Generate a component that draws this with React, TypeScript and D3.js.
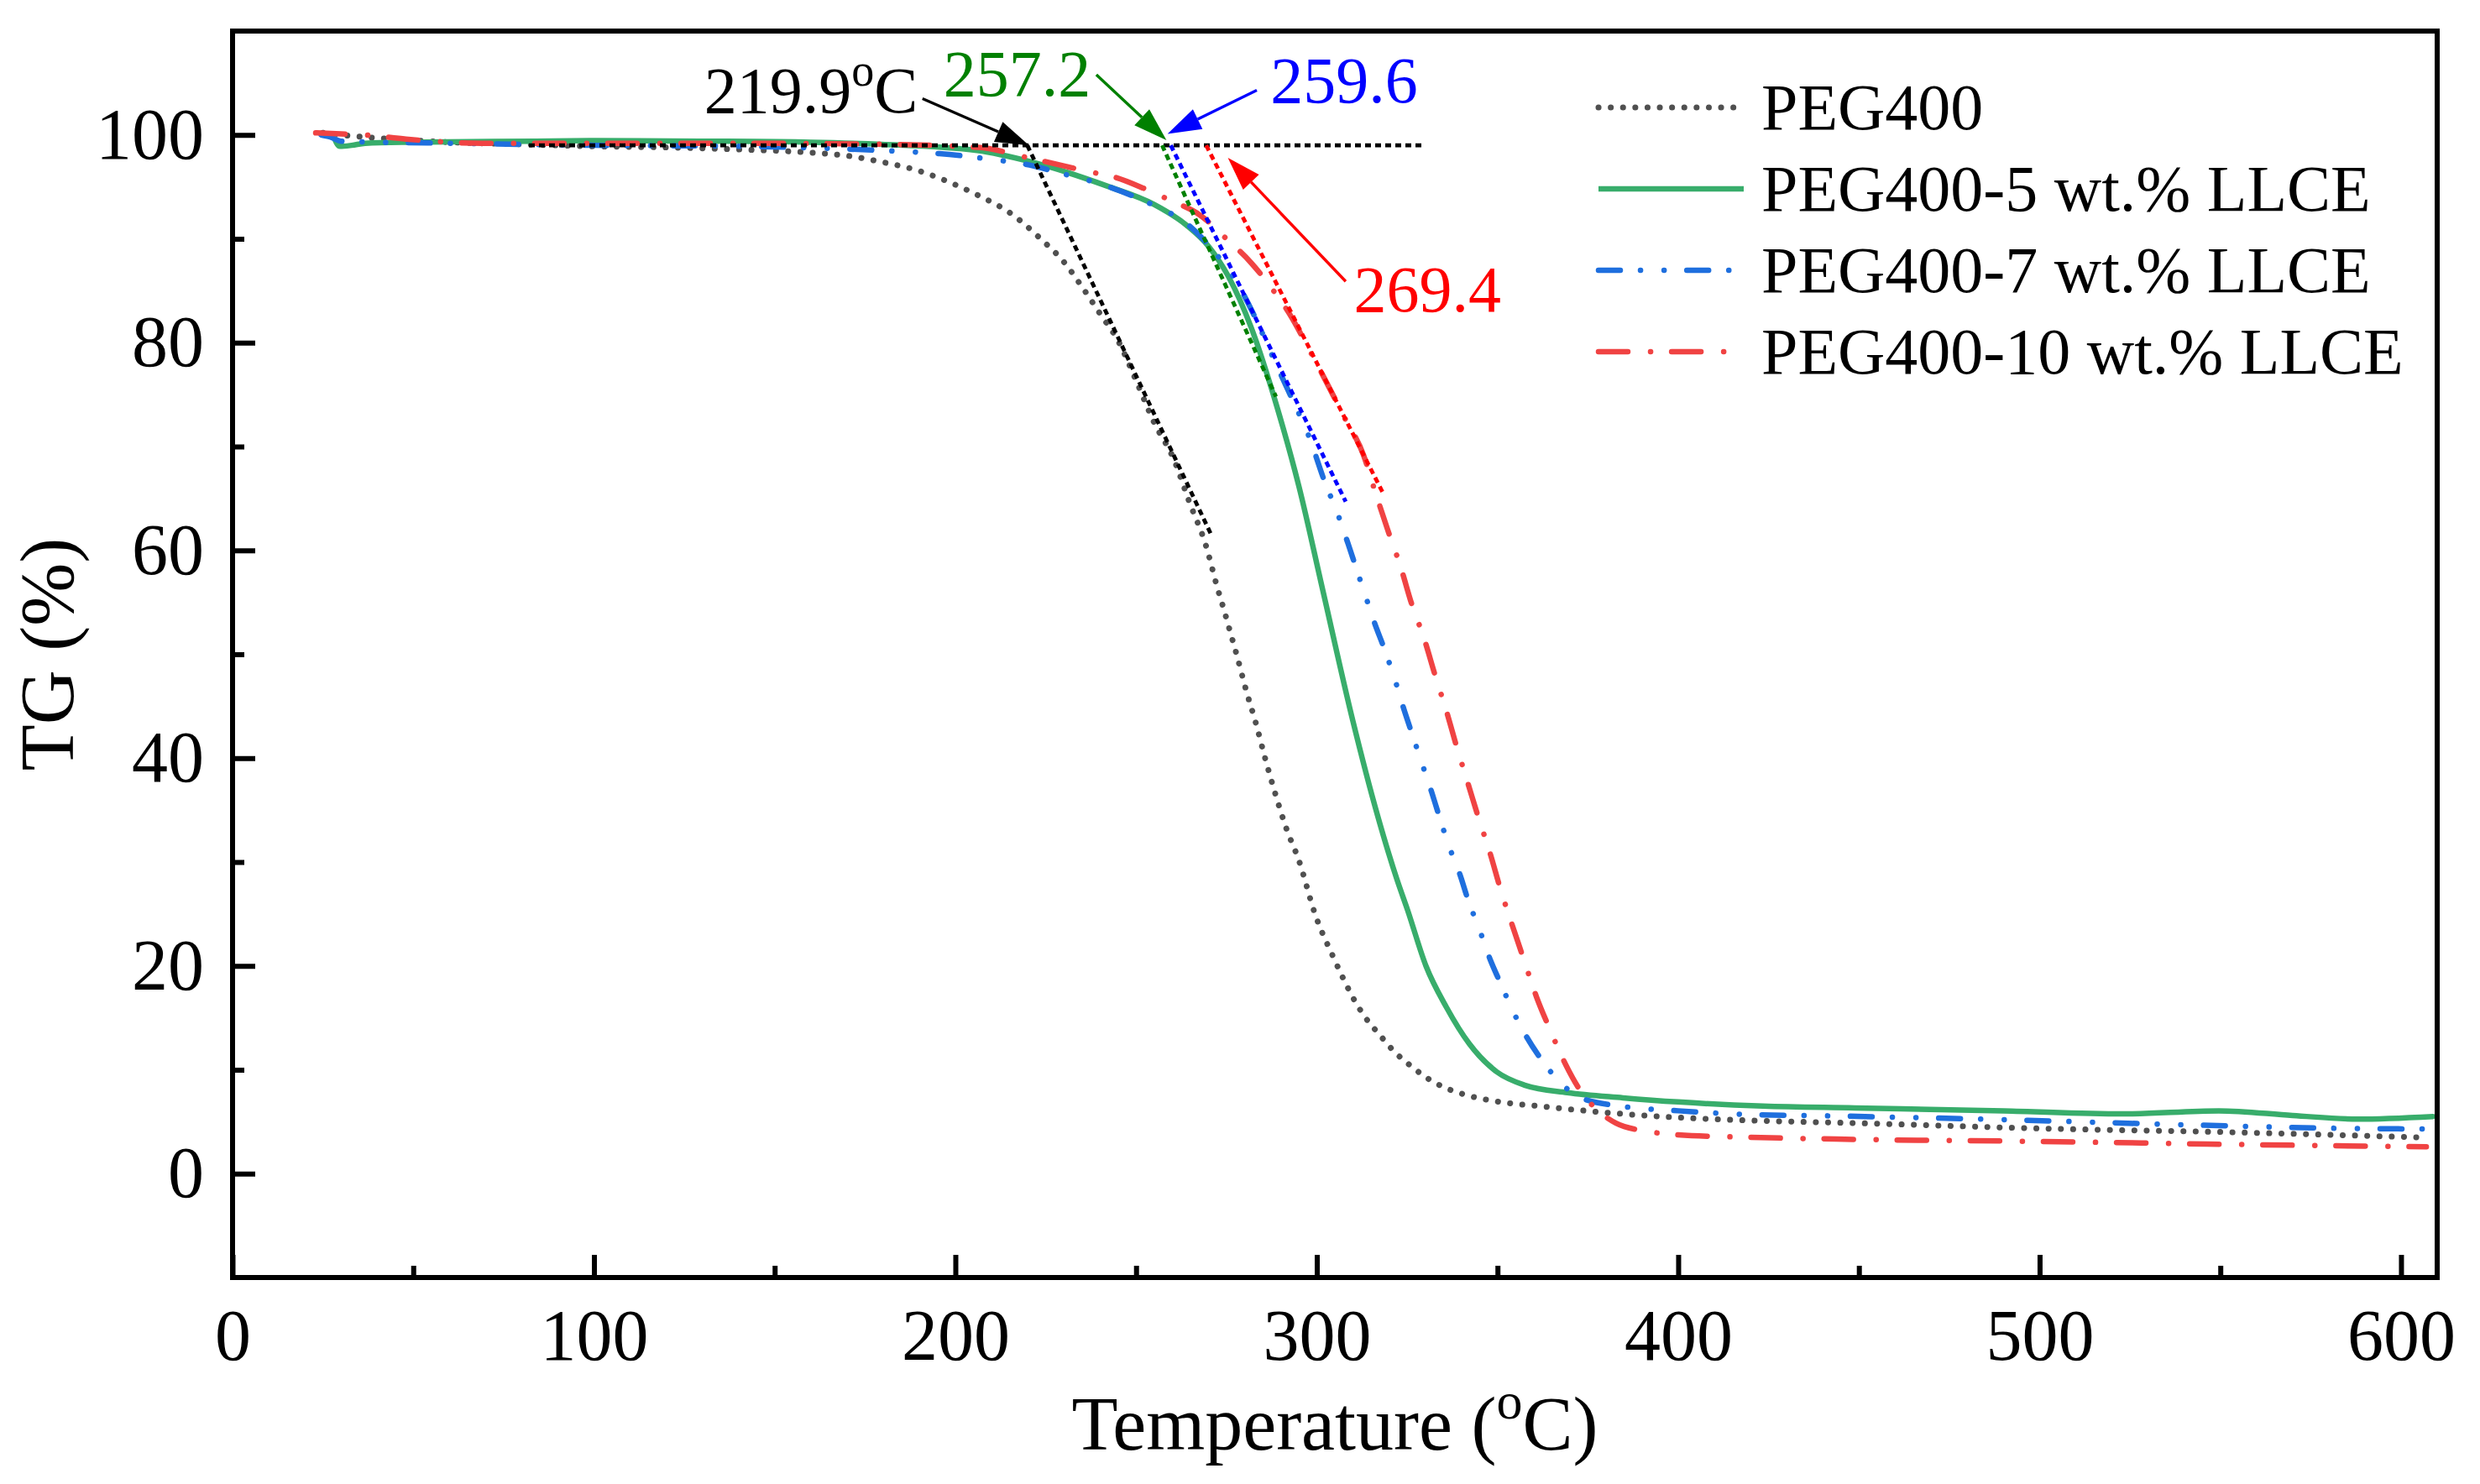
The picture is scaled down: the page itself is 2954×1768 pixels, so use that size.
import React, { useEffect, useRef } from 'react';
import * as d3 from 'd3';

const W = 2954;
const H = 1768;
const PLOT = { left: 277, top: 37, right: 2903, bottom: 1522 };
const FONT = '"Liberation Serif", "Times New Roman", Times, serif';

const xDomain = [0, 610];
const yDomain = [-10, 110];
const xTicks = [0, 100, 200, 300, 400, 500, 600];
const xMinorTicks = [50, 150, 250, 350, 450, 550];
const yTicks = [0, 20, 40, 60, 80, 100];
const yMinorTicks = [10, 30, 50, 70, 90];

const seriesNames = ['PEG400', 'PEG400-5 wt.% LLCE', 'PEG400-7 wt.% LLCE', 'PEG400-10 wt.% LLCE'];
const seriesColors = ['#505050', '#38ad6b', '#1f6fde', '#f04343'];
const seriesDash = ['0.1 14.5', 'none', '26 24 0.1 28 0.1 27', '35 27 0.1 25'];
const seriesWidth = [7, 6.5, 6.5, 6.5];

// PEG400
const pegT = [25, 30, 40, 60, 80, 100, 120, 140, 160, 170, 180.9, 188.4, 197.3, 206.2, 215.1, 223.9, 230.2, 234.6, 240, 245.3, 249.7, 255, 260.4, 264.8, 269.3, 272.5, 274.3, 276, 277.8, 280.4, 283.2, 285.7, 288.5, 291.5, 295.1, 299.6, 304.5, 307.3, 310.4, 313.5, 317.3, 321.3, 325.9, 331, 336, 341, 349.5, 363, 379.3, 400, 421.9, 448.8, 500, 552.5, 607];
const pegW = [100.2, 100.0, 99.7, 99.3, 99.1, 98.9, 98.8, 98.6, 98.3, 98.0, 97.3, 96.7, 95.6, 94.2, 92.5, 89.9, 87.7, 85.6, 82.8, 80.0, 76.6, 72.3, 68.8, 64.6, 60.5, 56.4, 54.3, 52.2, 50.0, 46.6, 43.3, 40.0, 36.6, 33.3, 30.1, 24.9, 20.9, 18.8, 16.7, 15.0, 13.4, 11.8, 10.4, 9.1, 8.2, 7.6, 6.97, 6.45, 5.9, 5.4, 5.1, 4.87, 4.35, 3.99, 3.47];

// PEG400-5 wt.% LLCE
const l5T = [27.8, 29.7, 33, 36.7, 50, 84, 100, 130, 160, 179.6, 206, 221, 241.8, 255, 264, 270, 275.5, 281.8, 289, 295.1, 301.7, 309.9, 316.8, 322.2, 325.1, 330.2, 335.9, 342.2, 349.8, 357.7, 369.3, 384.7, 400, 423.5, 448.8, 490, 522.9, 549.6, 570, 588, 608.8];
const l5W = [100.0, 98.9, 99.0, 99.2, 99.3, 99.4, 99.45, 99.4, 99.3, 99.1, 98.5, 97.4, 95.1, 93.3, 91.3, 89.3, 86.4, 81.5, 73.8, 66.1, 56.1, 43.7, 34.5, 28.3, 25.4, 20.0, 16.0, 12.5, 9.8, 8.5, 7.8, 7.3, 6.9, 6.5, 6.33, 6.05, 5.75, 6.05, 5.6, 5.25, 5.5];

// PEG400-7 wt.% LLCE
const l7T = [24.5, 27, 30, 40, 60, 100, 140, 179.6, 195.6, 208.8, 220.5, 229.3, 240, 255, 263.1, 272, 278.2, 282.7, 288, 293.4, 297.8, 302.2, 305.8, 308.7, 310.8, 313.3, 316.1, 318.5, 321.4, 324.2, 326.3, 328.9, 331.9, 333.6, 336.4, 339.8, 341.8, 344.9, 348.1, 351, 354.2, 358, 361.5, 366.5, 373, 384, 400, 418.8, 444, 493, 540.5, 586.5, 608];
const l7W = [100.0, 99.8, 99.4, 99.3, 99.2, 99.0, 98.9, 98.5, 98.2, 97.7, 97.1, 96.3, 95.3, 93.2, 91.7, 88.6, 85.6, 82.6, 78.5, 74.4, 71.0, 66.6, 63.5, 60.6, 58.4, 55.8, 52.9, 50.7, 47.8, 44.6, 42.4, 39.7, 36.6, 34.7, 31.7, 28.6, 26.4, 23.6, 20.5, 18.2, 15.7, 13.2, 11.3, 9.1, 7.3, 6.5, 6.05, 5.7, 5.55, 5.17, 4.7, 4.35, 4.3];

// PEG400-10 wt.% LLCE
const l10T = [23, 30, 36.6, 48, 69, 100, 140, 179.6, 206.2, 221.4, 236.5, 244.4, 252.5, 259.5, 267.6, 275, 281.8, 287.6, 292.4, 297.8, 303.1, 307.5, 312.9, 316.2, 319.6, 323.3, 326.2, 329.8, 332.8, 335.9, 338.7, 341.8, 344.7, 347.9, 350.9, 354.1, 357.2, 360.8, 364.6, 369, 373.1, 377.7, 382.8, 391, 399.5, 419.6, 448.8, 500, 552.5, 607];
const l10W = [100.2, 100.1, 100.0, 99.6, 99.2, 99.2, 99.2, 99.1, 98.8, 97.7, 96.5, 95.9, 94.8, 93.7, 92.3, 90.0, 87.7, 85.2, 82.8, 79.4, 75.9, 72.9, 69.2, 65.6, 62.0, 58.3, 54.9, 51.4, 47.9, 44.5, 41.1, 37.6, 34.3, 30.9, 27.3, 23.9, 20.7, 17.0, 13.8, 10.4, 7.9, 6.1, 4.85, 4.1, 3.75, 3.5, 3.3, 3.1, 2.82, 2.58];

const seriesT = [pegT, l5T, l7T, l10T];
const seriesW = [pegW, l5W, l7W, l10W];

// Onset construction
const baselineRange = [82, 329];
const baselineLevel = 99.0;
const onsetLabels = ['219.9', '257.2', '259.6', '269.4'];
const onsetT = [219.9, 257.2, 259.6, 269.4];
const tangentEndT = [270.8, 288.7, 308.0, 318.5];
const tangentEndW = [61.5, 74.8, 64.7, 65.4];
const tangentColors = ['#000000', '#008000', '#0000ff', '#ff0000'];
const arrowTailT = [190.9, 239.0, 283.4, 308.0];
const arrowTailW = [103.5, 105.8, 104.3, 85.9];
const arrowTipT = [220.4, 258.4, 258.7, 275.4];
const arrowTipW = [99.0, 99.5, 100.1, 97.8];
const labelT = [130.5, 196.7, 287.2, 310.2];
const labelW = [102.2, 103.8, 103.1, 83.05];

const x = d3.scaleLinear().domain(xDomain).range([PLOT.left, PLOT.right]);
const y = d3.scaleLinear().domain(yDomain).range([PLOT.bottom, PLOT.top]);

const lineGen = d3
  .line<[number, number]>()
  .x((d) => x(d[0]))
  .y((d) => y(d[1]))
  .curve(d3.curveMonotoneX);

function arrowParts(i: number) {
  const sx = x(arrowTailT[i]);
  const sy = y(arrowTailW[i]);
  const tx = x(arrowTipT[i]);
  const ty = y(arrowTipW[i]);
  const len = Math.hypot(tx - sx, ty - sy);
  const ux = (tx - sx) / len;
  const uy = (ty - sy) / len;
  const L = 40;
  const Wd = 13;
  const bx = tx - L * ux;
  const by = ty - L * uy;
  const nx = -uy;
  const ny = ux;
  return {
    line: { x1: sx, y1: sy, x2: bx, y2: by },
    head: `${tx},${ty} ${bx + Wd * nx},${by + Wd * ny} ${bx - Wd * nx},${by - Wd * ny}`,
  };
}

export default function App() {
  const xAxisRef = useRef<SVGGElement>(null);
  const xMinorRef = useRef<SVGGElement>(null);
  const yAxisRef = useRef<SVGGElement>(null);
  const yMinorRef = useRef<SVGGElement>(null);

  useEffect(() => {
    const styleAxis = (g: d3.Selection<SVGGElement, unknown, null, undefined>) => {
      g.select('.domain').remove();
      g.selectAll('.tick line').attr('stroke', '#000').attr('stroke-width', 6);
      g.selectAll('.tick text')
        .attr('font-size', 86)
        .attr('font-family', FONT)
        .attr('fill', '#000');
    };
    const gx = d3.select(xAxisRef.current as SVGGElement);
    gx.selectAll('*').remove();
    gx.call(
      d3.axisBottom(x).tickValues(xTicks).tickSizeInner(-27).tickSizeOuter(0).tickPadding(37).tickFormat(d3.format('d'))
    );
    styleAxis(gx);

    const gxm = d3.select(xMinorRef.current as SVGGElement);
    gxm.selectAll('*').remove();
    gxm.call(d3.axisBottom(x).tickValues(xMinorTicks).tickSizeInner(-14).tickSizeOuter(0).tickFormat(() => ''));
    styleAxis(gxm);

    const gy = d3.select(yAxisRef.current as SVGGElement);
    gy.selectAll('*').remove();
    gy.call(
      d3.axisLeft(y).tickValues(yTicks).tickSizeInner(-27).tickSizeOuter(0).tickPadding(34).tickFormat(d3.format('d'))
    );
    styleAxis(gy);

    const gym = d3.select(yMinorRef.current as SVGGElement);
    gym.selectAll('*').remove();
    gym.call(d3.axisLeft(y).tickValues(yMinorTicks).tickSizeInner(-14).tickSizeOuter(0).tickFormat(() => ''));
    styleAxis(gym);
  }, []);

  const legendX1 = 1904;
  const legendX2 = 2077;
  const legendTextX = 2098;
  const legendY0 = 128;
  const legendDy = 97;

  return (
    <div style={{ position: 'fixed', left: 0, top: 0 }}>
      <svg width={W} height={H} style={{ display: 'block' }} fontFamily={FONT}>
        <rect x={0} y={0} width={W} height={H} fill="#fff" />

        {/* data curves */}
        {seriesT.map((ts, i) => (
          <path
            key={seriesNames[i]}
            d={lineGen(ts.map((t, k) => [t, seriesW[i][k]] as [number, number])) || ''}
            fill="none"
            stroke={seriesColors[i]}
            strokeWidth={seriesWidth[i]}
            strokeDasharray={seriesDash[i]}
            strokeLinecap="round"
            strokeLinejoin="round"
          />
        ))}

        {/* baseline */}
        <line
          x1={x(baselineRange[0])}
          x2={x(baselineRange[1])}
          y1={y(baselineLevel)}
          y2={y(baselineLevel)}
          stroke="#000"
          strokeWidth={4.8}
          strokeDasharray="7 5"
        />
        {/* tangents */}
        {onsetT.map((t, i) => (
          <line
            key={'tan' + i}
            x1={x(t)}
            y1={y(baselineLevel)}
            x2={x(tangentEndT[i])}
            y2={y(tangentEndW[i])}
            stroke={tangentColors[i]}
            strokeWidth={4.8}
            strokeDasharray="7 5"
          />
        ))}

        {/* arrows */}
        {onsetT.map((_, i) => {
          const a = arrowParts(i);
          return (
            <g key={'arr' + i}>
              <line {...a.line} stroke={tangentColors[i]} strokeWidth={3.4} />
              <polygon points={a.head} fill={tangentColors[i]} />
            </g>
          );
        })}

        {/* onset labels */}
        {onsetLabels.map((lab, i) => (
          <text key={'lab' + i} x={x(labelT[i])} y={y(labelW[i])} fontSize={78} fill={tangentColors[i]}>
            {lab}
            {i === 0 && (
              <>
                <tspan fontSize={54} dy={-32}>
                  o
                </tspan>
                <tspan dy={32}>C</tspan>
              </>
            )}
          </text>
        ))}

        {/* frame */}
        <rect
          x={PLOT.left}
          y={PLOT.top}
          width={PLOT.right - PLOT.left}
          height={PLOT.bottom - PLOT.top}
          fill="none"
          stroke="#000"
          strokeWidth={6}
        />
        <g ref={xAxisRef} transform={`translate(0,${PLOT.bottom})`} />
        <g ref={xMinorRef} transform={`translate(0,${PLOT.bottom})`} />
        <g ref={yAxisRef} transform={`translate(${PLOT.left},0)`} />
        <g ref={yMinorRef} transform={`translate(${PLOT.left},0)`} />

        {/* axis titles */}
        <text x={(PLOT.left + PLOT.right) / 2} y={1727} fontSize={90} textAnchor="middle" fill="#000">
          Temperature (
          <tspan fontSize={62} dy={-37}>
            o
          </tspan>
          <tspan dy={37}>C)</tspan>
        </text>
        <text
          transform={`translate(87,${(PLOT.top + PLOT.bottom) / 2}) rotate(-90)`}
          fontSize={90}
          textAnchor="middle"
          fill="#000"
        >
          TG (%)
        </text>

        {/* legend */}
        {seriesNames.map((name, i) => (
          <g key={'leg' + i}>
            <line
              x1={legendX1}
              x2={legendX2}
              y1={legendY0 + i * legendDy}
              y2={legendY0 + i * legendDy}
              stroke={seriesColors[i]}
              strokeWidth={seriesWidth[i]}
              strokeDasharray={seriesDash[i]}
              strokeLinecap={i === 1 ? 'butt' : 'round'}
            />
            <text x={legendTextX} y={legendY0 + i * legendDy + 26} fontSize={78} fill="#000">
              {name}
            </text>
          </g>
        ))}
      </svg>
    </div>
  );
}
